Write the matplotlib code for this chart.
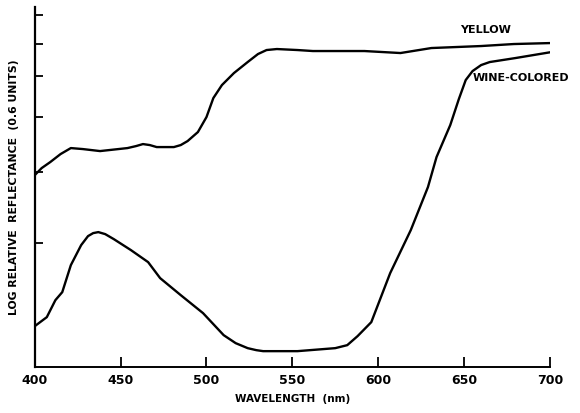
import matplotlib
matplotlib.use("Agg")
import matplotlib.pyplot as plt

# Wavelength (nm) and log relative reflectance (arbitrary units)
yellow_wl = [400, 404, 409, 415, 421, 428, 438, 454, 459, 463, 467, 471, 481, 485,
             489, 495, 500, 504, 509, 516, 524, 530, 535, 541, 553, 562, 592,
             613, 631, 660, 679, 701]
yellow_val = [192, 199, 205, 213, 219, 218, 216, 219, 221, 223, 222, 220, 220, 222,
              226, 235, 250, 269, 282, 294, 305, 313, 317, 318, 317, 316, 316,
              314, 319, 321, 323, 324]

wine_wl = [400, 407, 412, 416, 421, 427, 431, 434, 437, 441, 446, 456, 466, 473,
           485, 498, 510, 517, 524, 529, 533, 553, 575, 582, 588, 596, 607, 619,
           629, 634, 642, 647, 651, 655, 660, 665, 680, 701]
wine_val = [41, 50, 67, 75, 102, 122, 131, 134, 135, 133, 128, 117, 105, 89,
            72, 54, 32, 24, 19, 17, 16, 16, 19, 22, 31, 45, 94, 137,
            180, 210, 242, 268, 287, 296, 302, 305, 309, 315]

x_ticks = [400, 450, 500, 550, 600, 650, 700]
y_ticks = [124, 195, 250, 291, 323, 352]

fig = plt.figure(figsize=(5.8, 4.13), dpi=100)
ax = fig.add_axes([0.060, 0.111, 0.888, 0.872])

ax.plot(yellow_wl, yellow_val, color="black", lw=1.7, solid_capstyle="round",
        solid_joinstyle="round")
ax.plot(wine_wl, wine_val, color="black", lw=1.7, solid_capstyle="round",
        solid_joinstyle="round")

ax.set_xlim(400, 700)
ax.set_ylim(0, 360)
ax.spines["top"].set_visible(False)
ax.spines["right"].set_visible(False)
ax.spines["left"].set_linewidth(1.6)
ax.spines["bottom"].set_linewidth(1.4)

ax.set_xticks(x_ticks)
ax.set_xticklabels([str(t) for t in x_ticks], fontsize=9, fontweight="bold")
ax.set_yticks(y_ticks)
ax.set_yticklabels([])
ax.tick_params(axis="x", direction="in", length=7, width=1.3, pad=5)
ax.tick_params(axis="y", direction="in", length=6, width=1.3)

ax.set_xlabel("WAVELENGTH  (nm)", fontsize=7.5, fontweight="bold", labelpad=5)
ax.set_ylabel("LOG RELATIVE  REFLECTANCE  (0.6 UNITS)", fontsize=7.8,
              fontweight="bold", labelpad=8)

ax.text(648, 332, "YELLOW", fontsize=8, fontweight="bold", ha="left", va="bottom")
ax.text(655, 289, "WINE-COLORED", fontsize=8, fontweight="bold", ha="left",
        va="center", clip_on=False)

fig.savefig("out.png", dpi=100)
